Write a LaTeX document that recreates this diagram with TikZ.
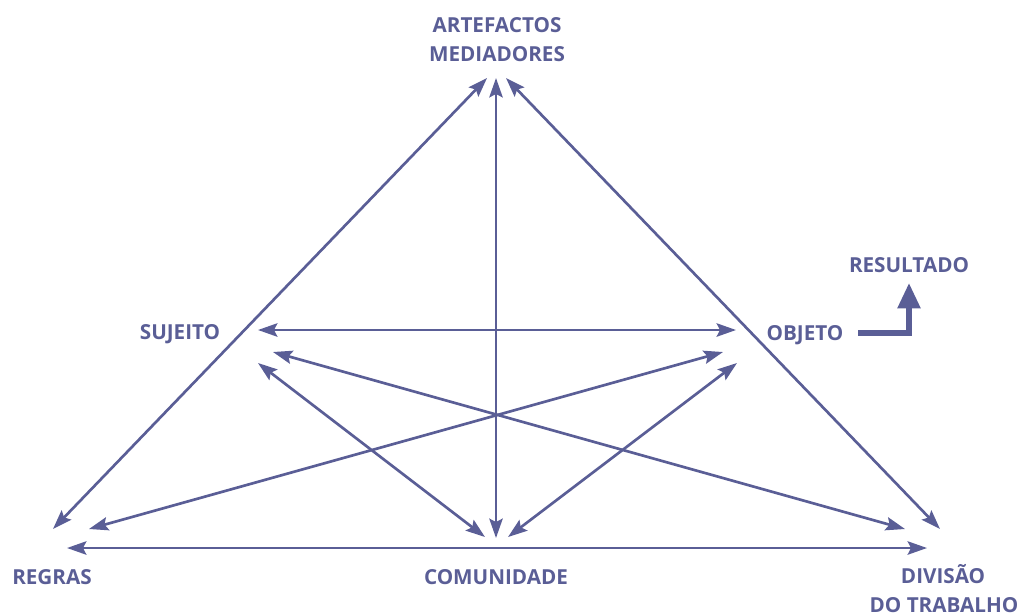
\documentclass[tikz,border=0pt]{standalone}
\usepackage{fontspec}
\setmainfont{Open Sans}
\usetikzlibrary{arrows.meta}
\definecolor{ink}{RGB}{90,94,150}
\begin{document}
\begin{tikzpicture}[x=0.75pt,y=-0.75pt,
  lab/.style={text=ink,font=\fontsize{15.5}{18}\selectfont\bfseries,inner sep=0pt,anchor=base},
  conn/.style={draw=ink,line width=2pt,{Stealth[length=14.5pt,width=10pt,inset=2.5pt]}-{Stealth[length=14.5pt,width=10pt,inset=2.5pt]}},
  res/.style={draw=ink,line width=4pt,-{Triangle[length=19pt,width=16.5pt]}}]
\useasboundingbox (0,0) rectangle (1024,612);
% labels
\node[lab] (art) at (497,32) {ARTEFACTOS};
\node[lab] (med) at (497,61) {MEDIADORES};
\node[lab] (res) at (909,272) {RESULTADO};
\node[lab] (obj) at (805,340) {OBJETO};
\node[lab] (suj) at (180,339) {SUJEITO};
\node[lab] (reg) at (52,584) {REGRAS};
\node[lab] (com) at (496,584) {COMUNIDADE};
\node[lab] (div) at (943,583) {DIVISÃO};
\node[lab] (dot) at (944,612) {DO TRABALHO};
% arrow ends
\coordinate (tL) at (487,78);
\coordinate (tM) at (496,78);
\coordinate (tR) at (506,78);
\coordinate (rA) at (53,529);
\coordinate (rB) at (89,529);
\coordinate (rC) at (67,548);
\coordinate (dA) at (940,529);
\coordinate (dB) at (905,529);
\coordinate (dC) at (927,548);
\coordinate (cL) at (485,537);
\coordinate (cM) at (496,538);
\coordinate (cR) at (508,537);
\coordinate (sA) at (258,330);
\coordinate (sB) at (273,352);
\coordinate (sC) at (258,363);
\coordinate (oA) at (736,330);
\coordinate (oB) at (723,352);
\coordinate (oC) at (737,363);
\coordinate (r0) at (858,333);
\coordinate (r1) at (909,283);
% connectors
\draw[conn] (rA) -- (tL);
\draw[conn] (cM) -- (tM);
\draw[conn] (dA) -- (tR);
\draw[conn] (rC) -- (dC);
\draw[conn] (sA) -- (oA);
\draw[conn] (sB) -- (dB);
\draw[conn] (sC) -- (cL);
\draw[conn] (oB) -- (rB);
\draw[conn] (oC) -- (cR);
\draw[res] (r0) -| (r1);
\end{tikzpicture}
\end{document}
